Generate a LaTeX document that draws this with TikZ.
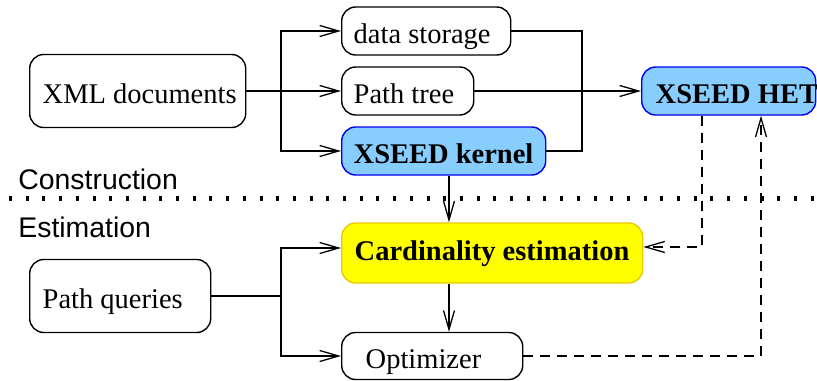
\documentclass[tikz,border=0pt]{standalone}
\usepackage{fontspec}
\setmainfont{Liberation Serif}
\newfontfamily\phasefont{Liberation Sans}
\usetikzlibrary{arrows.meta,calc}
\definecolor{xseedblue}{RGB}{135,206,255}
\definecolor{xseededge}{RGB}{0,0,240}
\definecolor{cardfill}{RGB}{255,255,0}
\definecolor{cardedge}{RGB}{235,200,0}
% box content: fixed width, text set flush left after a given pad
\newcommand{\boxtext}[3]{\makebox[#1][l]{\hspace*{#2}#3}}
\begin{document}
\begin{tikzpicture}[x=0.5pt,y=-0.5pt,
  font=\fontsize{14.25}{17}\selectfont,
  box/.style={draw, line width=0.7pt, rounded corners=7pt, anchor=west,
    inner xsep=0pt, inner ysep=0pt, text height=12pt, text depth=0pt,
    minimum height=24pt},
  xseed/.style={box, fill=xseedblue, draw=xseededge, font=\fontsize{14.25}{17}\selectfont\bfseries},
  flow/.style={line width=0.65pt, -{Straight Barb[length=9.5pt,width=5.5pt,line width=0.65pt]}},
  plain/.style={line width=0.65pt},
  feedback/.style={flow, dash pattern=on 5pt off 3.5pt},
  phase/.style={anchor=base west, inner sep=0pt, font=\fontsize{14.2}{17}\selectfont\phasefont},
]
\clip (0,0) rectangle (817,380);

% construction phase
\node[box, minimum height=36.5pt] (xml) at (29,91) {\boxtext{108pt}{6.5pt}{XML documents}};
\node[box] (ds) at (341,31) {\boxtext{84.5pt}{6pt}{data storage}};
\node[box] (pt) at (341,91) {\boxtext{66pt}{6pt}{Path tree}};
\node[xseed] (kern) at (341,151) {\boxtext{102pt}{6pt}{XSEED kernel}};
\node[xseed] (het) at (641,91) {\boxtext{87pt}{7pt}{XSEED HET}};

% estimation phase
\node[box, fill=cardfill, draw=cardedge, minimum height=30pt, text height=7pt,
      font=\fontsize{14.25}{17}\selectfont\bfseries] (card) at (341,253)
      {\boxtext{150.5pt}{6.5pt}{Cardinality estimation}};
\node[box, minimum height=36.5pt] (pq) at (29,296) {\boxtext{90.5pt}{6.5pt}{Path queries}};
\node[box, minimum height=23.5pt] (opt) at (341,356) {\boxtext{90.5pt}{12pt}{Optimizer}};

% phase labels and separator
\node[phase] (lcon) at (18,189) {Construction};
\node[phase] (lest) at (18,237) {Estimation};
\coordinate (sepL) at (9,198);
\coordinate (sepR) at (817,198);
\draw[line width=2.5pt, dash pattern=on 1.5pt off 6.85pt] (sepL) -- (sepR);

% routing points
\coordinate (j1) at (281,91);
\coordinate (c1) at (582,91);
\coordinate (j2) at (281,296);
\coordinate (vx) at (449,200);
\coordinate (d1) at (702,247);
\coordinate (d2) at (761,300);

% construction flow
\draw[plain] (xml.east) -- (j1);
\draw[flow] (j1) |- (ds.west);
\draw[flow] (xml.east) -- (pt.west);
\draw[flow] (j1) |- (kern.west);
\draw[plain] (ds.east) -| (c1) |- (kern.east);
\draw[flow] (pt.east) -- (het.west);

% estimation flow
\draw[flow] (kern.south -| vx) -- (card.north -| vx);
\draw[flow] (card.south -| vx) -- (opt.north -| vx);
\draw[plain] (pq.east) -- (j2);
\draw[flow] (j2) |- ($(card.west)+(0,-5)$);
\draw[flow] (j2) |- (opt.west);

% feedback links
\draw[feedback] (het.south -| d1) |- (card.east |- d1);
\draw[feedback] (opt.east) -| (het.south -| d2);
\end{tikzpicture}
\end{document}
